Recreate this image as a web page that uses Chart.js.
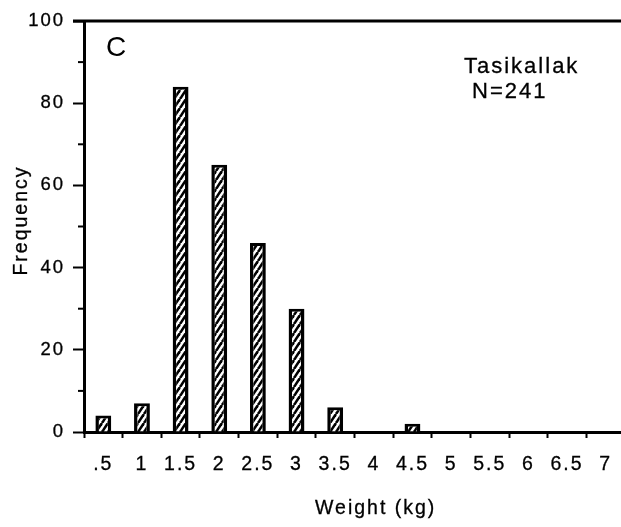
<!DOCTYPE html>
<html>
<head>
<meta charset="utf-8">
<script src="https://cdn.jsdelivr.net/npm/chart.js@4"></script>
<style>
  html, body { margin: 0; padding: 0; background: #fff; overflow: hidden; }
  #wrap { width: 640px; height: 527px; position: relative; }
</style>
</head>
<body>
<div id="wrap"><canvas id="c"></canvas></div>
<script>
// Weight classes (kg) and number of fish in each class
const weightClasses = ['.5', '1', '1.5', '2', '2.5', '3', '3.5', '4', '4.5', '5', '5.5', '6', '6.5', '7'];
const frequency = [4, 7, 84, 65, 46, 30, 6, 0, 2, 0, 0, 0, 0, 0];

// Frequency axis: labelled ticks and unlabelled minor ticks
const yTicks = [0, 20, 40, 60, 80, 100];
const yMinorTicks = [10, 30, 50, 70, 90];

const panelLetter = 'C';
const siteName = 'Tasikallak';
const sampleSize = 'N=241';
const xTitle = 'Weight (kg)';
const yTitle = 'Frequency';

const FONT = "'Liberation Sans', Arial, Helvetica, sans-serif";
const TEXT_STROKE = 0.3;

const canvas = document.getElementById('c');
const mainCtx = canvas.getContext('2d');

// Diagonal "/" hatching used to fill the bars
function makeHatch() {
  const w = 6, h = 9;
  const tile = document.createElement('canvas');
  tile.width = w; tile.height = h;
  const g = tile.getContext('2d');
  g.fillStyle = '#fff';
  g.fillRect(0, 0, w, h);
  g.strokeStyle = '#000';
  g.lineWidth = 2.6;
  for (let k = -1; k <= 1; k++) {
    g.beginPath();
    g.moveTo(k * w, h);
    g.lineTo(k * w + w, 0);
    g.stroke();
  }
  return mainCtx.createPattern(tile, 'repeat');
}

function drawText(ctx, text, x, y, stroke) {
  if (stroke > 0) {
    ctx.lineWidth = stroke;
    ctx.strokeText(text, x, y);
  }
  ctx.fillText(text, x, y);
}

// Frame line, minor ticks, panel letter, site label and axis titles
const decorations = {
  id: 'decorations',
  beforeUpdate(chart) { chart.ctx.letterSpacing = '2px'; },
  beforeDraw(chart) { chart.ctx.letterSpacing = '2px'; },
  afterDraw(chart) {
    const { ctx, chartArea: a, scales: { y } } = chart;
    ctx.save();
    ctx.strokeStyle = '#000';
    ctx.lineWidth = 3;
    ctx.beginPath();
    ctx.moveTo(a.left - 11, a.top);
    ctx.lineTo(chart.width, a.top);
    ctx.stroke();

    ctx.lineWidth = 2;
    yMinorTicks.forEach(v => {
      const py = y.getPixelForValue(v);
      ctx.beginPath();
      ctx.moveTo(a.left - 6, py);
      ctx.lineTo(a.left, py);
      ctx.stroke();
    });

    ctx.fillStyle = '#000';
    ctx.strokeStyle = '#000';
    ctx.letterSpacing = '2px';
    ctx.textAlign = 'left';
    ctx.textBaseline = 'alphabetic';
    ctx.font = `28px ${FONT}`;
    drawText(ctx, panelLetter, 106, 56, 0);
    ctx.font = `22px ${FONT}`;
    drawText(ctx, siteName, 464, 73, TEXT_STROKE);
    drawText(ctx, sampleSize, 472, 98, TEXT_STROKE);
    ctx.font = `19.5px ${FONT}`;
    drawText(ctx, xTitle, 315, 514, TEXT_STROKE);

    ctx.save();
    ctx.translate(26.5, 220.5);
    ctx.rotate(-Math.PI / 2);
    ctx.textAlign = 'center';
    drawText(ctx, yTitle, 0, 0, TEXT_STROKE);
    ctx.restore();

    ctx.restore();
  }
};

new Chart(mainCtx, {
  type: 'bar',
  data: {
    labels: weightClasses,
    datasets: [{
      data: frequency,
      backgroundColor: makeHatch(),
      borderColor: '#000',
      borderWidth: { top: 3, left: 3.5, right: 3.5, bottom: 0 },
      barPercentage: 0.41,
      categoryPercentage: 1
    }]
  },
  options: {
    responsive: true,
    maintainAspectRatio: false,
    animation: false,
    devicePixelRatio: 1,
    layout: { padding: { top: 21, right: 15, bottom: 0, left: 0 } },
    plugins: { legend: { display: false }, tooltip: { enabled: false } },
    scales: {
      x: {
        offset: true,
        grid: {
          offset: true,
          drawOnChartArea: false,
          drawTicks: true,
          tickLength: 6,
          tickWidth: 2,
          tickColor: '#000'
        },
        border: { display: true, color: '#000', width: 3 },
        ticks: {
          color: '#000',
          font: { family: FONT, size: 19.5 },
          textStrokeColor: '#000',
          textStrokeWidth: TEXT_STROKE,
          padding: 15,
          autoSkip: false,
          maxRotation: 0,
          minRotation: 0
        },
        afterFit(s) { s.height = 95; }
      },
      y: {
        min: 0,
        max: 100,
        grid: {
          drawOnChartArea: false,
          drawTicks: true,
          tickLength: 11,
          tickWidth: 2,
          tickColor: '#000'
        },
        border: { display: true, color: '#000', width: 3 },
        ticks: {
          color: '#000',
          font: { family: FONT, size: 18.5 },
          textStrokeColor: '#000',
          textStrokeWidth: TEXT_STROKE,
          padding: 8
        },
        afterBuildTicks(s) { s.ticks = yTicks.map(v => ({ value: v })); },
        afterFit(s) { s.width = 84; }
      }
    }
  },
  plugins: [decorations]
});
</script>
</body>
</html>
